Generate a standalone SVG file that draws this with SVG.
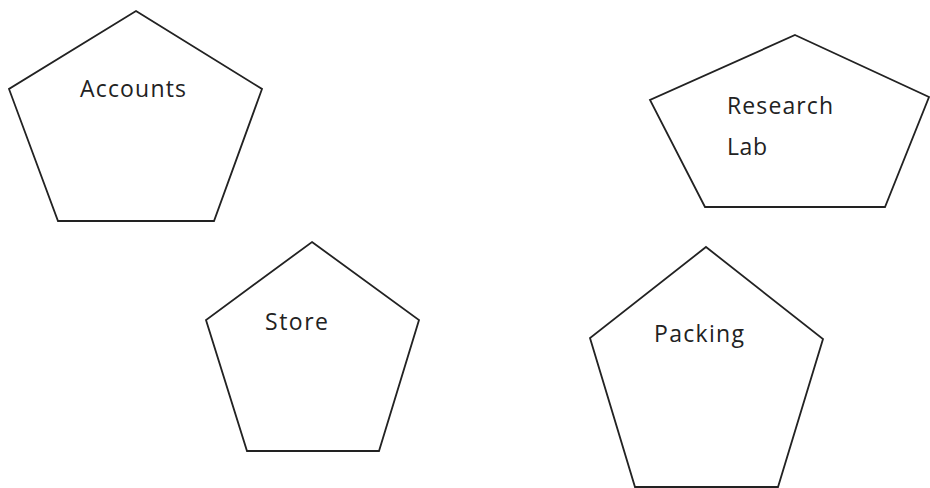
<svg xmlns="http://www.w3.org/2000/svg" width="930" height="488" viewBox="0 0 930 488">
<style>
.shape{fill:#fff;stroke:#222;stroke-width:1.8;stroke-linejoin:miter}
.lbl{font-family:"Open Sans","Liberation Sans",sans-serif;font-size:23px;fill:#222}
</style>
<rect width="930" height="488" fill="#fff"/>
<g id="accounts">
<polygon class="shape" points="136,11 262,89 214,221 58,221 9,89"/>
<text class="lbl" x="80" y="97" textLength="106" lengthAdjust="spacing">Accounts</text>
</g>
<g id="research-lab">
<polygon class="shape" points="795,35 929,97 885,207 705,207 650,100"/>
<text class="lbl" x="727" y="114" textLength="106" lengthAdjust="spacing">Research</text>
<text class="lbl" x="727" y="155" textLength="40" lengthAdjust="spacing">Lab</text>
</g>
<g id="store">
<polygon class="shape" points="312,242 419,320 379,451 247,451 206,320"/>
<text class="lbl" x="265" y="330" textLength="63" lengthAdjust="spacing">Store</text>
</g>
<g id="packing">
<polygon class="shape" points="706,247 823,339 778,487 635,487 590,338"/>
<text class="lbl" x="654" y="342" textLength="90" lengthAdjust="spacing">Packing</text>
</g>
<g id="connectors"></g>
</svg>
